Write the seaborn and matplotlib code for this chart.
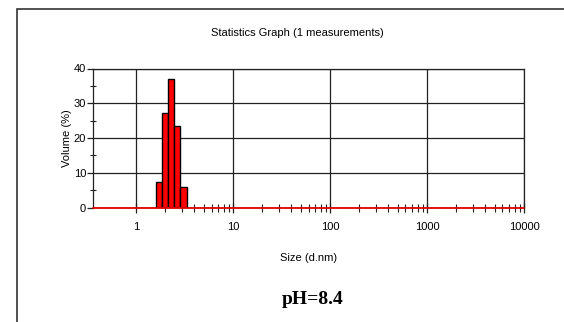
import matplotlib
matplotlib.use('Agg')
import matplotlib.pyplot as plt
import matplotlib.ticker as mticker
from matplotlib.patches import Rectangle
import seaborn as sns
import numpy as np

# Size distribution (one measurement), volume %
sizes = [1.718, 1.990, 2.305, 2.669, 3.091]
volume = [7.4, 27.1, 37.1, 23.4, 5.9]
bin_edges = [1.596, 1.849, 2.142, 2.480, 2.873, 3.327]
x_ticks = [1, 10, 100, 1000, 10000]
x_tick_labels = ['1', '10', '100', '1000', '10000']
y_ticks = [0, 10, 20, 30, 40]

sns.set_style("white")
plt.rcParams['font.family'] = ['Liberation Sans', 'DejaVu Sans']
plt.rcParams['text.color'] = 'black'
plt.rcParams['axes.labelcolor'] = 'black'
plt.rcParams['xtick.color'] = 'black'
plt.rcParams['ytick.color'] = 'black'

fig = plt.figure(figsize=(5.64, 3.22), dpi=100)
ax = fig.add_axes([93 / 564, 1 - 207.5 / 322, (524 - 93) / 564, (207.5 - 68.5) / 322])

log_edges = [float(v) for v in np.log10(bin_edges)]
sns.histplot(x=sizes, weights=volume, bins=log_edges, log_scale=True,
             color='#ff0000', alpha=1, edgecolor='black', linewidth=1, ax=ax, zorder=3)

ax.set_xlim(0.36, 10000)
ax.set_ylim(0, 40)
ax.set_xticks(x_ticks)
ax.set_xticklabels(x_tick_labels)
minor = [m * 10 ** d for d in range(0, 4) for m in range(2, 10)]
ax.xaxis.set_minor_locator(mticker.FixedLocator(minor))
ax.xaxis.set_minor_formatter(mticker.NullFormatter())
ax.set_yticks(y_ticks)
ax.yaxis.set_minor_locator(mticker.FixedLocator([5, 15, 25, 35]))

ax.grid(True, which='major', color='#222222', linewidth=0.9, zorder=0)
ax.axhline(0, color='#e00000', linewidth=1.3, zorder=4, clip_on=False)

for s in ['left', 'right', 'top']:
    ax.spines[s].set_color('#222222')
    ax.spines[s].set_linewidth(0.9)
ax.spines['bottom'].set_visible(False)

ax.tick_params(axis='x', which='major', direction='inout', length=7, width=0.9,
               color='#222222', labelsize=8, pad=7)
ax.tick_params(axis='x', which='minor', direction='inout', length=6, width=0.8,
               color='#222222')
ax.tick_params(axis='y', which='major', direction='out', length=4, width=0.9,
               color='#222222', labelsize=8, pad=1)
ax.tick_params(axis='y', which='minor', direction='inout', length=5, width=0.8,
               color='#222222')
ax.tick_params(left=True, bottom=True, which='both')

ax.set_xlabel('Size (d.nm)', fontsize=8, labelpad=15)
ax.set_ylabel('Volume (%)', fontsize=8, labelpad=1)

fig.text(297 / 564, 1 - 33 / 322, 'Statistics Graph (1 measurements)', fontsize=8,
         ha='center', va='center')
fig.text(313 / 564, 1 - 299 / 322, 'pH=8.4', fontsize=14, fontweight='bold',
         family=['Liberation Serif', 'DejaVu Serif'], ha='center', va='center')

# outer frame, partly cropped at right and bottom
fig.patches.append(Rectangle((17 / 564, -0.1), 1.2, 1.1 - 9 / 322,
                             transform=fig.transFigure, fill=False,
                             edgecolor='#333333', linewidth=1.2))

fig.savefig('out.png', dpi=100)
